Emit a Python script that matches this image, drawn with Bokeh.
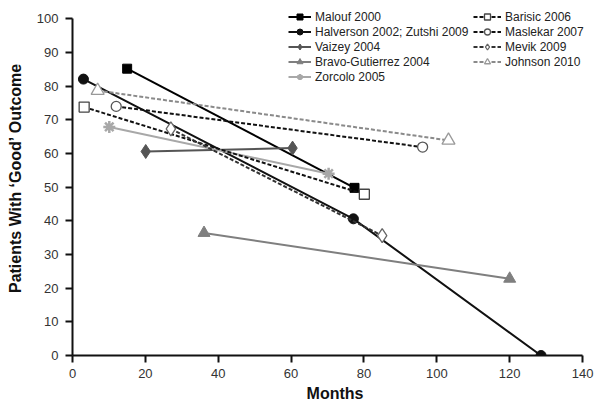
from bokeh.plotting import figure
from bokeh.models import Legend, LegendItem, Range1d
from bokeh.embed import file_html
from bokeh.resources import INLINE

# Data (months, % patients with 'good' outcome)
malouf_x = [15, 77.4]
malouf_y = [85.2, 49.8]
halverson_x = [3, 77.1, 128.6]
halverson_y = [82.1, 40.6, 0]
vaizey_x = [20.1, 60.4]
vaizey_y = [60.6, 61.6]
bravo_x = [36.1, 120]
bravo_y = [36.4, 22.8]
zorcolo_x = [10.1, 70.3]
zorcolo_y = [67.9, 54]
barisic_x = [3.2, 80.1]
barisic_y = [73.8, 47.9]
maslekar_x = [12, 96.1]
maslekar_y = [74, 61.9]
mevik_x = [27, 85]
mevik_y = [67.3, 35.6]
johnson_x = [6.9, 103.2]
johnson_y = [78.7, 63.9]

labels_col1 = ["Malouf 2000", "Halverson 2002; Zutshi 2009", "Vaizey 2004",
               "Bravo-Gutierrez 2004", "Zorcolo 2005"]
labels_col2 = ["Barisic 2006", "Maslekar 2007", "Mevik 2009", "Johnson 2010"]

x_ticks = [0, 20, 40, 60, 80, 100, 120, 140]
y_ticks = [0, 10, 20, 30, 40, 50, 60, 70, 80, 90, 100]

FONT = "Liberation Sans"

# ranges run a bit past the axes so the legend (above 100) is not clipped;
# the axis lines themselves stop at 100 and 140 via bounds
p = figure(width=597, height=404, output_backend="svg", toolbar_location=None,
           x_range=Range1d(0, 144.1), y_range=Range1d(0, 105.45),
           min_border_left=72, min_border_right=0, min_border_top=0,
           min_border_bottom=47)
p.outline_line_color = None
p.grid.visible = False
p.background_fill_color = "white"
p.border_fill_color = "white"

for ax in (p.xaxis[0], p.yaxis[0]):
    ax.axis_line_width = 2
    ax.axis_line_color = "#111111"
    ax.major_tick_line_width = 2
    ax.major_tick_line_color = "#111111"
    ax.major_tick_out = 7
    ax.major_tick_in = 0
    ax.minor_tick_line_color = None
    ax.major_label_text_font = FONT
    ax.major_label_text_font_size = "13px"
    ax.major_label_text_color = "#333333"
    ax.axis_label_text_font = FONT
    ax.axis_label_text_font_style = "bold"
    ax.axis_label_text_font_size = "16px"
    ax.axis_label_text_color = "#111111"

p.xaxis.ticker = x_ticks
p.yaxis.ticker = y_ticks
p.xaxis.bounds = (x_ticks[0], x_ticks[-1])
p.yaxis.bounds = (y_ticks[0], y_ticks[-1])
p.xaxis.axis_label = "Months"
p.yaxis.axis_label = "Patients With \u2018Good\u2019 Outcome"
p.xaxis.major_label_standoff = 6
p.xaxis.axis_label_standoff = 4
p.yaxis.major_label_standoff = 7
p.yaxis.axis_label_standoff = 10

series = [
    (malouf_x, malouf_y, "#000000", "solid", "square", 9, "#000000", "#000000", 1),
    (halverson_x, halverson_y, "#111111", "solid", "circle", 10, "#111111", "#111111", 1),
    (vaizey_x, vaizey_y, "#555555", "solid", "diamond", 14, "#555555", "#555555", 1),
    (bravo_x, bravo_y, "#7f7f7f", "solid", "triangle", 12, "#7f7f7f", "#7f7f7f", 1),
    (zorcolo_x, zorcolo_y, "#a8a8a8", "solid", "asterisk", 12, "#a8a8a8", "#a8a8a8", 2.5),
    (barisic_x, barisic_y, "#111111", "4 2", "square", 10, "white", "#444444", 1.3),
    (maslekar_x, maslekar_y, "#111111", "4 2", "circle", 10, "white", "#555555", 1.3),
    (mevik_x, mevik_y, "#333333", "4 2", "diamond", 14, "white", "#666666", 1.3),
    (johnson_x, johnson_y, "#8a8a8a", "4 2", "triangle", 13, "white", "#999999", 1.3),
]

items1, items2 = [], []
for i, (xs, ys, lc, dash, mk, sz, fc, mlc, mlw) in enumerate(series):
    lr = p.line(xs, ys, line_color=lc, line_width=2, line_dash=dash)
    sr = p.scatter(xs, ys, marker=mk, size=sz, fill_color=fc,
                   line_color=mlc, line_width=mlw)
    if i < 5:
        items1.append(LegendItem(label=labels_col1[i], renderers=[lr, sr]))
    else:
        items2.append(LegendItem(label=labels_col2[i - 5], renderers=[lr, sr]))

for items, loc, gw in ((items1, (216, 271), 23), (items2, (401, 286), 28)):
    lg = Legend(items=items, location=loc)
    lg.glyph_width = gw
    lg.glyph_height = 15
    lg.label_height = 15
    lg.spacing = 0
    lg.padding = 0
    lg.margin = 0
    lg.label_standoff = 4
    lg.label_text_font = FONT
    lg.label_text_font_size = "12px"
    lg.label_text_color = "#222222"
    lg.border_line_color = None
    lg.background_fill_alpha = 0
    p.add_layout(lg)

open("out.html", "w").write(file_html(p, INLINE))
